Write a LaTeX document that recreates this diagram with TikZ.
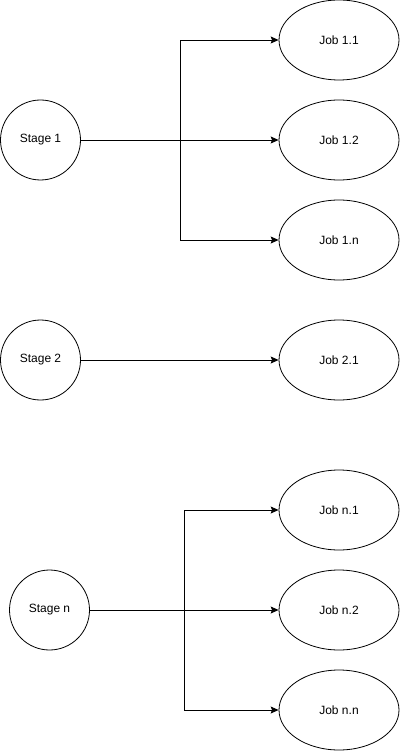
\documentclass[tikz,border=0pt]{standalone}
\usepackage{fontspec}
\setmainfont{Liberation Sans}
\usetikzlibrary{arrows.meta,shapes.geometric}
\begin{document}
\begin{tikzpicture}[x=1pt,y=-1pt,
  stagebox/.style={draw,circle,minimum size=80pt,inner sep=0pt,line width=0.8pt,font=\fontsize{12}{14}\selectfont},
  jobbox/.style={draw,ellipse,minimum width=120pt,minimum height=80pt,inner sep=0pt,line width=0.8pt,font=\fontsize{12}{14}\selectfont},
  conn/.style={line width=0.8pt,-{Stealth[length=8pt,width=7pt,inset=1.5pt]}}]
\useasboundingbox (0,0) rectangle (400,751);
\node[stagebox] (s1) at (40.5,140) {Stage 1};
\node[jobbox] (j11) at (339,40) {Job 1.1};
\node[jobbox] (j12) at (339,140) {Job 1.2};
\node[jobbox] (j1n) at (339,240) {Job 1.n};
\node[stagebox] (s2) at (40.5,360) {Stage 2};
\node[jobbox] (j21) at (339,360) {Job 2.1};
\node[stagebox] (sn) at (49.5,610) {Stage n};
\node[jobbox] (jn1) at (339,510) {Job n.1};
\node[jobbox] (jn2) at (339,610) {Job n.2};
\node[jobbox] (jnn) at (339,710) {Job n.n};
\coordinate (b1) at (180,140);
\coordinate (bn) at (184.5,610);
\draw[conn] (s1) -- (j12);
\draw[conn] (b1) |- (j11);
\draw[conn] (b1) |- (j1n);
\draw[conn] (s2) -- (j21);
\draw[conn] (sn) -- (jn2);
\draw[conn] (bn) |- (jn1);
\draw[conn] (bn) |- (jnn);
\end{tikzpicture}
\end{document}
